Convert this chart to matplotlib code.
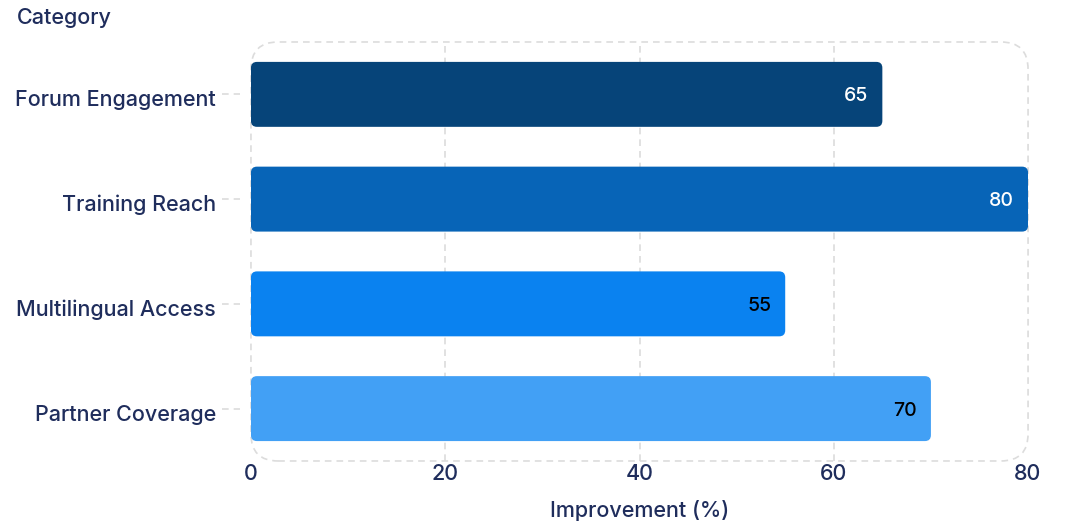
import matplotlib.pyplot as plt
from matplotlib.patches import FancyBboxPatch
from matplotlib import transforms

categories = ["Forum Engagement", "Training Reach", "Multilingual Access", "Partner Coverage"]
values = [65, 80, 55, 70]
colors = ["#064479", "#0764b7", "#0a82f0", "#42a0f5"]
label_colors = ["white", "white", "black", "black"]
x_ticks = [0, 20, 40, 60, 80]

navy = "#1f2d5c"
grid_col = "#dcdcdc"

plt.rcParams['font.family'] = ['Inter', 'DejaVu Sans']

fig = plt.figure(figsize=(10.67, 5.21), dpi=100)
ax = fig.add_axes([0.2352, 0.1152, 0.7283, 0.8042])

y = list(range(len(categories)))
bars = ax.barh(y, values, height=0.62, color="none")
ax.set_xlim(0, 80)
ax.set_ylim(3.5, -0.5)

# rounded bars built from the bar geometry
px_x = 80 / 777.0
px_y = 4 / 420.0
for b, c in zip(bars, colors):
    b.set_visible(False)
    p = FancyBboxPatch((b.get_x(), b.get_y()), b.get_width(), b.get_height(),
                       boxstyle="round,pad=0,rounding_size=%f" % (6 * px_x),
                       mutation_aspect=px_y / px_x, fc=c, ec="none", zorder=3)
    ax.add_patch(p)

for yi, v, lc in zip(y, values, label_colors):
    ax.text(v - 14 * px_x, yi, str(v), ha="right", va="center_baseline",
            color=lc, fontsize=14, fontweight="medium", zorder=4)

# grid
for xt in x_ticks[1:-1]:
    ax.axvline(xt, color=grid_col, lw=1.2, ls=(0, (4, 3)), zorder=0)

# dashed rounded frame
for s in ax.spines.values():
    s.set_visible(False)
frame = FancyBboxPatch((0, 0), 1, 1, transform=ax.transAxes,
                       boxstyle="round,pad=0,rounding_size=0.035",
                       mutation_aspect=777 / 420.0,
                       fc="none", ec=grid_col, lw=1.2, ls=(0, (4, 3)),
                       clip_on=False, zorder=0)
ax.add_patch(frame)

# dashed y ticks
tr = transforms.blended_transform_factory(fig.transFigure, ax.transData)
for yi in y:
    ax.plot([222 / 1067, 240 / 1067], [yi, yi], transform=tr, color=grid_col,
            lw=1.2, ls=(0, (4, 3)), clip_on=False)

ax.set_yticks(y)
ax.set_yticklabels(categories)
ax.set_xticks(x_ticks)
ax.tick_params(axis="y", length=0, pad=25, labelsize=15.5, labelcolor=navy)
ax.tick_params(axis="x", length=0, pad=2, labelsize=15.5, labelcolor=navy)
for lab in ax.get_yticklabels() + ax.get_xticklabels():
    lab.set_fontweight("medium")
shift = transforms.ScaledTranslation(0, -4 / 100, fig.dpi_scale_trans)
for lab in ax.get_yticklabels():
    lab.set_va("center_baseline")
    lab.set_transform(lab.get_transform() + shift)

ax.set_xlabel("Improvement (%)", fontsize=15.5, color=navy, labelpad=11.5,
              fontweight="medium")
fig.text(17 / 1067, 1 - 18 / 521, "Category", fontsize=15.5, color=navy,
         ha="left", va="center", fontweight="medium")

fig.savefig("out.png", dpi=100)
